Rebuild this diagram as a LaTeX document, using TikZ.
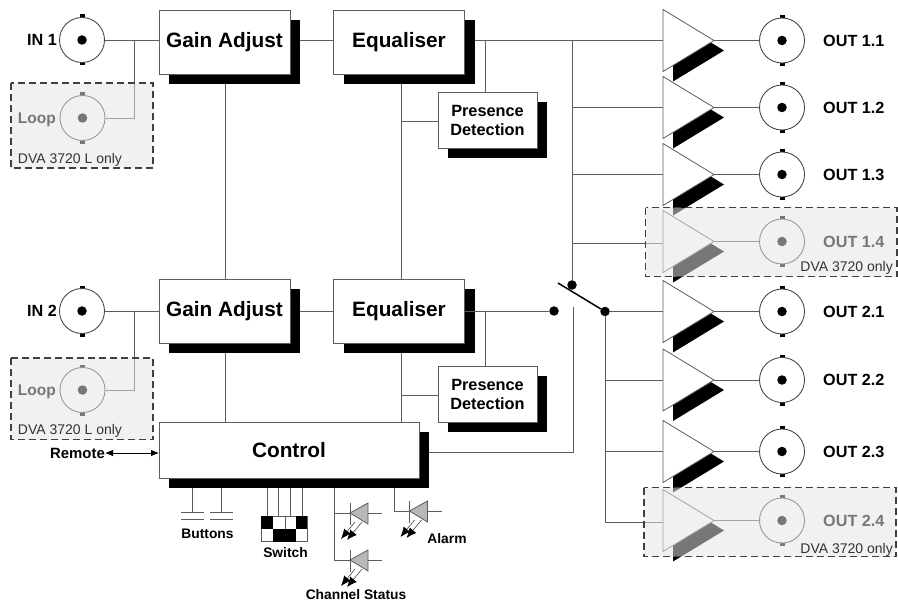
\documentclass[tikz,border=0pt]{standalone}
\usepackage{fontspec}
\setmainfont{Liberation Sans}
\usetikzlibrary{arrows.meta,shadows}
\definecolor{wire}{gray}{0.36}
\tikzset{
  x=1pt,y=-1pt,
  wireline/.style={draw=wire,line width=0.95pt},
  blockbox/.style={draw=wire,fill=white,line width=0.95pt,inner sep=0pt,outer sep=0pt,align=center,
    general shadow={fill=black,shadow xshift=10pt,shadow yshift=-10pt}},
  bigblock/.style={blockbox,minimum width=131pt,minimum height=64pt,font=\fontsize{20.8}{24}\selectfont\bfseries},
  presblock/.style={blockbox,minimum width=99pt,minimum height=56pt,font=\fontsize{16.3}{19}\selectfont\bfseries},
  jack/.style={circle,draw=wire!70!black,fill=white,line width=0.85pt,minimum size=45pt,inner sep=0pt,outer sep=0pt},
  blob/.style={circle,fill=black,minimum size=9.5pt,inner sep=0pt,outer sep=0pt},
  iolabel/.style={font=\fontsize{16.2}{18}\selectfont\bfseries,inner sep=0pt},
  smalllabel/.style={font=\fontsize{13.8}{16}\selectfont\bfseries,inner sep=0pt},
  notelabel/.style={font=\fontsize{14}{16}\selectfont,text=black!80,inner sep=0pt},
  veil/.style={fill=black!10,fill opacity=0.52,draw=none},
  dashframe/.style={draw=black!75,line width=1.1pt,dash pattern=on 7pt off 4pt},
  ledfill/.style={fill=black!28,draw=wire,line width=0.8pt},
  lightray/.style={draw=wire,line width=0.7pt,-{Latex[length=10pt,width=8.5pt,black]}},
}
\newcommand{\jackat}[3]{% name, x, y
  \fill[black] (#2-2.5,#3-25.5) rectangle (#2+2.5,#3-22);
  \fill[black] (#2-2.5,#3+22) rectangle (#2+2.5,#3+25.5);
  \node[jack] (#1) at (#2,#3) {};
  \node[blob] (#1dot) at (#2,#3) {};
}
\newcommand{\ampat}[2]{% name, y
  \begin{scope}[shift={(663,#2)}]
    \fill[black] (10,-21) -- (61,10) -- (10,41) -- cycle;
    \draw[fill=white,draw=wire,line width=0.8pt] (0,-31) -- (51,0) -- (0,31) -- cycle;
    \coordinate (#1in) at (0,0);
    \coordinate (#1tip) at (51,0);
  \end{scope}
}
\newcommand{\ledat}[3]{% name, x of bar, y
  \begin{scope}[shift={(#2,#3)}]
    \draw[ledfill] (0,0) -- (18,-10) -- (18,11) -- cycle;
    \draw[wireline,line width=0.8pt] (0,-10.5) -- (0,12);
    \draw[wireline,line width=0.8pt] (18,0) -- (32,0);
    \coordinate (#1) at (0,0);
    \draw[lightray] (5,9) -- (-9,26);
    \draw[lightray] (12,9) -- (-3,27);
  \end{scope}
}
\begin{document}
\begin{tikzpicture}
\useasboundingbox[fill=white] (0,0) rectangle (898,602);

% coordinates of junctions
\coordinate (topbus) at (572,40.5);
\coordinate (swtop) at (572,285);
\coordinate (ctlturn) at (573,452);
\coordinate (swfoot) at (573,307);
\coordinate (ctlout) at (419,452);

% amplifiers and output jacks
\foreach \n/\y in {aa/40.5,ab/107.5,ac/174.5,ad/241.5,ae/311.5,af/380,ag/451.5,ah/520.5}{\ampat{\n}{\y}}
\foreach \n/\y in {oa/40.5,ob/107.5,oc/174.5,od/241.5,oe/311.5,of/380,og/451.5,oh/520.5}{\jackat{\n}{782}{\y}}
\foreach \n/\y/\t in {la/40.5/OUT 1.1,lb/107.5/OUT 1.2,lc/174.5/OUT 1.3,ld/241.5/OUT 1.4,le/311.5/OUT 2.1,lf/380/OUT 2.2,lg/451.5/OUT 2.3,lh/520.5/OUT 2.4}{
  \node[iolabel,anchor=west] (\n) at (823,\y) {\t};}
\foreach \a/\o in {aa/oa,ab/ob,ac/oc,ad/od,ae/oe,af/of,ag/og,ah/oh}{
  \draw[wireline] (\a tip) -- (\o.west);}

% input jacks
\jackat{ina}{82}{40}
\jackat{inb}{82}{311}
\jackat{lpa}{82.5}{118}
\jackat{lpb}{82.5}{390}
\node[iolabel,anchor=east] (tina) at (57,40) {IN 1};
\node[iolabel,anchor=east] (tinb) at (57,311) {IN 2};
\node[iolabel,anchor=east,font=\fontsize{15.5}{18}\selectfont\bfseries] (tla) at (56,119.5) {Loop};
\node[iolabel,anchor=east,font=\fontsize{15.5}{18}\selectfont\bfseries] (tlb) at (56,391.5) {Loop};

% wires beneath the blocks
\coordinate (ga) at (134,40);
\coordinate (gb) at (134,311);
\draw[wireline] (ina.east) -- (159,40);
\draw[wireline] (inb.east) -- (159,311);
\draw[wireline] (ga) |- (lpa.east);
\draw[wireline] (gb) |- (lpb.east);
\draw[wireline] (225,74) -- (225,422);
\draw[wireline] (401,74) -- (401,422);
\draw[wireline] (290,40) -- (333,40);
\draw[wireline] (290,311) -- (333,311);
\draw[wireline] (465,40.5) -- (aain);
\draw[wireline] (485,40.5) -- (485,92);
\draw[wireline] (485,311) -- (485,366);
\draw[wireline] (401,121) -- (438,121);
\draw[wireline] (401,395) -- (438,395);
\draw[wireline] (topbus) -- (swtop);
\draw[wireline] (572,107.5) -- (abin);
\draw[wireline] (572,174.5) -- (acin);
\draw[wireline] (572,243.5) -- (663,243.5);
\draw[wireline] (ctlout) -- (ctlturn) -- (swfoot);

% blocks
\node[bigblock] (gaina) at (224.5,42) {Gain Adjust};
\node[bigblock] (eqa) at (399,42) {Equaliser};
\node[presblock] (psa) at (487.5,120) {Presence\\Detection};
\node[bigblock] (gainb) at (224.5,311) {Gain Adjust};
\node[bigblock] (eqb) at (399,311) {Equaliser};
\node[presblock] (psb) at (487.5,394) {Presence\\Detection};
\node[blockbox,minimum width=260pt,minimum height=56pt,font=\fontsize{20.8}{24}\selectfont\bfseries] (ctl) at (289,450) {Control};

% switch and lower output wires
\node[blob] (sw1) at (554,311) {};
\node[blob] (sw2) at (605,311.5) {};
\node[blob] (sw3) at (572,285) {};
\draw[wireline] (eqb.east) -- (sw1);
\draw[wireline] (sw2) -- (aein);
\draw[wireline] (sw2) -- (605,522) -- (663,522);
\draw[wireline] (605,380) -- (afin);
\draw[wireline] (605,451.5) -- (agin);
\draw[black,line width=1.5pt] (558,283) -- (sw2);

% remote
\node[smalllabel,font=\fontsize{14.9}{17}\selectfont\bfseries,anchor=east] (rem) at (105,453) {Remote};
\draw[draw=black,line width=0.8pt,{Latex[length=8pt,width=6.5pt]}-{Latex[length=8pt,width=6.5pt]}] (rem.east) -- (159,453);

% buttons
\draw[wireline] (192.7,488) -- (192.7,512);
\draw[wireline] (221.7,488) -- (221.7,512);
\foreach \x in {181,210}{
  \draw[wire,line width=0.85pt] (\x,512) -- ++(23,0);
  \draw[wire,line width=0.85pt] (\x,519) -- ++(23,0);}
\node[smalllabel] (tbut) at (207.5,533.5) {Buttons};

% dip switch
\foreach \x in {267,278,290,302}{\draw[wireline] (\x,488) -- (\x,516);}
\draw[draw=wire,fill=white,line width=0.8pt] (261,516) rectangle (307,541.5);
\fill[black] (261,516) rectangle (273,529);
\fill[black] (296,516) rectangle (307,529);
\fill[black] (273,529) rectangle (296,541.5);
\draw[wire,line width=0.8pt] (285,516) -- (285,529);
\node[smalllabel] (tsw) at (285.5,553) {Switch};

% status LEDs
\ledat{leda}{350}{513}
\ledat{ledb}{350}{560}
\ledat{ledc}{409.5}{511}
\draw[wireline] (334,488) |- (leda);
\draw[wireline] (334,513) |- (ledb);
\draw[wireline] (394,488) |- (ledc);
\node[smalllabel] (tal) at (447,539) {Alarm};
\node[smalllabel] (tcs) at (356,594.5) {Channel Status};

% optional-fit overlays
\foreach \a/\b/\c/\d in {11/83/153/168, 11/358/153/439.5, 645.7/207.7/897/276.7, 644/487.7/896/556.7}{
  \path[veil] (\a,\b) rectangle (\c,\d);
  \draw[dashframe] (\a,\b) rectangle (\c,\d);}
\node[notelabel] (noa) at (70,159.5) {DVA 3720 L only};
\node[notelabel] (nob) at (70,431) {DVA 3720 L only};
\node[notelabel,anchor=east] (noc) at (893,268) {DVA 3720 only};
\node[notelabel,anchor=east] (nod) at (893,549.5) {DVA 3720 only};
\end{tikzpicture}
\end{document}
